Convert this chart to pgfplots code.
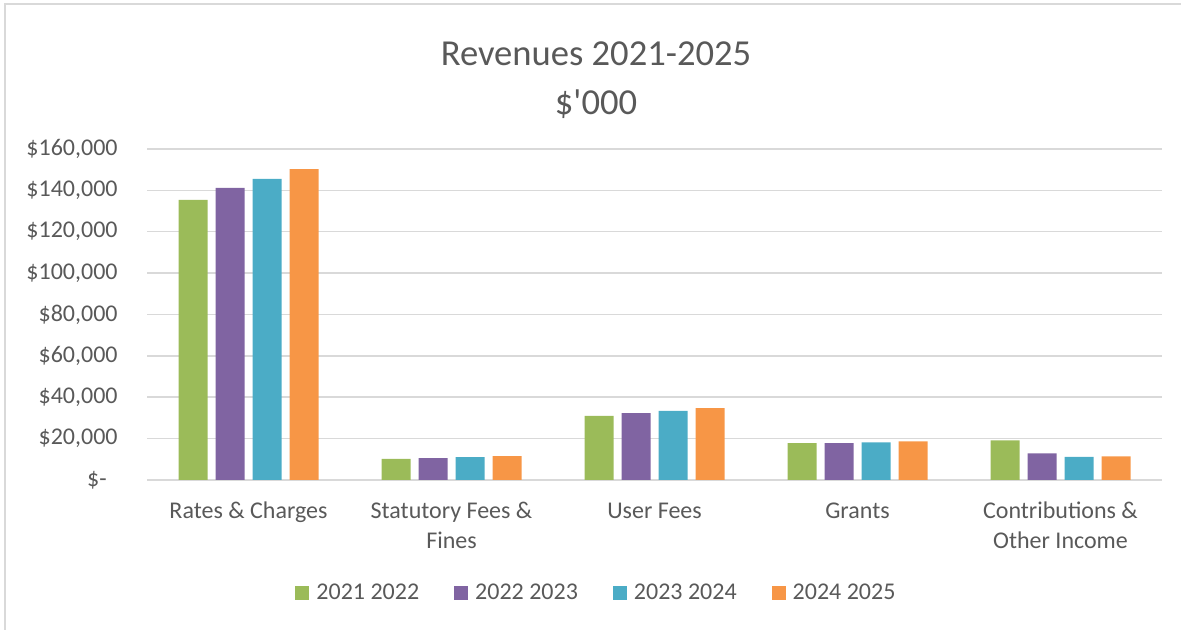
\documentclass[border=0pt]{standalone}
\usepackage{pgfplots}
\pgfplotsset{compat=1.18}
\usepackage{fontspec}
\setmainfont{Carlito}
\definecolor{cgreen}{HTML}{9BBB59}
\definecolor{cpurple}{HTML}{8064A2}
\definecolor{cteal}{HTML}{4BACC6}
\definecolor{corange}{HTML}{F79646}
\definecolor{txt}{HTML}{595959}
\definecolor{gridc}{HTML}{D9D9D9}
\begin{document}
\begin{tikzpicture}
\path[use as bounding box] (0,0) rectangle (590.5pt,315pt);
\draw[gridc, line width=0.75pt] (2.5pt,-20pt) -- (2.5pt,313pt) -- (620pt,313pt);
\node[anchor=base, text=txt, font=\fontsize{18.3}{22}\selectfont] at (298pt,282.15pt) {Revenues 2021-2025};
\node[anchor=base, text=txt, font=\fontsize{18.3}{22}\selectfont] at (298pt,257.85pt) {\$\textquotesingle 000};
\begin{axis}[
  at={(73.5pt,75pt)}, anchor=south west,
  width=507.5pt, height=165.5pt, scale only axis,
  ybar=4pt, bar width=14.5pt,
  xmin=-0.5, xmax=4.5, ymin=0, ymax=160000,
  xtick={0,1,2,3,4},
  xticklabels={{\strut Rates \& Charges}, {\strut Statutory Fees \&\\Fines}, {\strut User Fees}, {\strut Grants}, {\strut Contributions \&\\Other Income}},
  ytick={0,20000,40000,60000,80000,100000,120000,140000,160000},
  yticklabels={{\$-\kern5.5pt},{\$20,000},{\$40,000},{\$60,000},{\$80,000},{\$100,000},{\$120,000},{\$140,000},{\$160,000}},
  scaled y ticks=false,
  axis line style={draw=none},
  major tick length=0pt,
  ymajorgrids, grid style={color=gridc, line width=0.75pt},
  tick label style={text=txt, font=\fontsize{12}{15}\selectfont},
  yticklabel style={anchor=east, inner sep=0pt, xshift=-14.5pt},
  xticklabel style={anchor=north, align=center, inner sep=0pt, yshift=-8.5pt},
  legend style={at={(0.4433,-0.3414)}, anchor=center, draw=none, fill=none,
    legend columns=4, font=\fontsize{12}{15}\selectfont, text=txt,
    inner sep=0pt, nodes={inner sep=1.5pt},
    /tikz/every even column/.append style={column sep=16pt},
    /tikz/every odd column/.append style={column sep=2pt}},
  legend image code/.code={\fill[#1] (0pt,-3.7pt) rectangle (7pt,3.7pt);},
  every axis plot/.append style={draw=none},
]
\addplot[fill=cgreen] coordinates {(0,135350) (1,10240) (2,31000) (3,17850) (4,19170)};
\addplot[fill=cpurple] coordinates {(0,141150) (1,10540) (2,32340) (3,17850) (4,12830)};
\addplot[fill=cteal] coordinates {(0,145500) (1,11030) (2,33460) (3,18200) (4,11220)};
\addplot[fill=corange] coordinates {(0,150300) (1,11500) (2,34780) (3,18680) (4,11370)};
\legend{2021 2022, 2022 2023, 2023 2024, 2024 2025}
\end{axis}
\end{tikzpicture}
\end{document}
